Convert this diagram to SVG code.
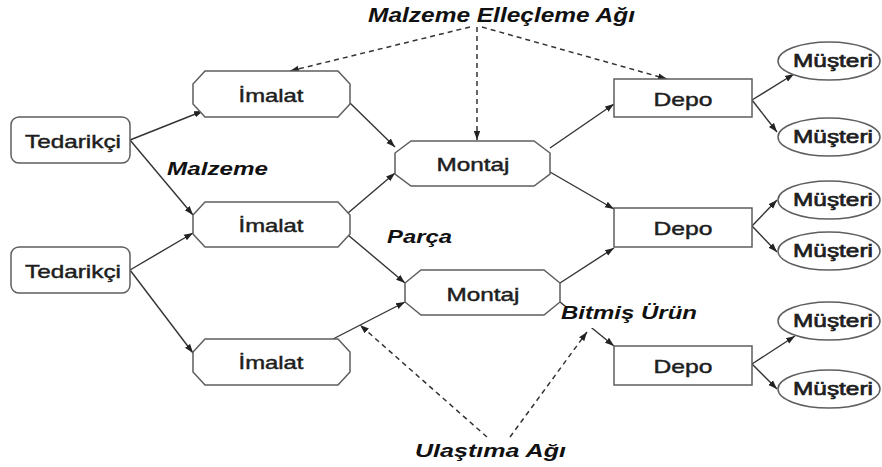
<svg xmlns="http://www.w3.org/2000/svg" width="882" height="467" viewBox="0 0 882 467">
  <defs>
    <marker id="arr" markerUnits="userSpaceOnUse" markerWidth="10" markerHeight="8" refX="9" refY="4" orient="auto">
      <path d="M0,0.8 L9,4 L0,7.2 Z" fill="#222"/>
    </marker>
    <style>
      .node { fill: #fff; stroke: #5e5e5e; stroke-width: 1.5; }
      .lbl { font-family: "Liberation Sans", Arial, sans-serif; font-size: 19px; fill: #1e1e1e; stroke: #1e1e1e; stroke-width: 0.45; text-anchor: middle; }
      .cust { stroke-width: 0.7; }
      .ital { font-family: "Liberation Sans", Arial, sans-serif; font-size: 19px; font-weight: bold; font-style: italic; fill: #111; }
      .edge { stroke: #333; stroke-width: 1.4; fill: none; marker-end: url(#arr); }
      .dash { stroke: #333; stroke-width: 1.5; fill: none; stroke-dasharray: 5 4; marker-end: url(#arr); }
    </style>
  </defs>
  <rect width="882" height="467" fill="#fff"/>

  <g id="connectors">
    <line class="edge" x1="130" y1="140" x2="203" y2="111"/>
    <line class="edge" x1="130" y1="140" x2="193" y2="215"/>
    <line class="edge" x1="130" y1="270" x2="193" y2="233"/>
    <line class="edge" x1="130" y1="270" x2="193" y2="353"/>
    <line class="edge" x1="350" y1="103" x2="395" y2="147"/>
    <line class="edge" x1="348" y1="213" x2="395" y2="173"/>
    <line class="edge" x1="348" y1="235" x2="405" y2="283"/>
    <line class="edge" x1="333" y1="339" x2="405" y2="302"/>
    <line class="edge" x1="550" y1="148" x2="614" y2="104"/>
    <line class="edge" x1="550" y1="172" x2="614" y2="209"/>
    <line class="edge" x1="560" y1="283" x2="614" y2="248"/>
    <line class="edge" x1="560" y1="302" x2="614" y2="346"/>
    <line class="edge" x1="752" y1="100" x2="794" y2="74"/>
    <line class="edge" x1="752" y1="100" x2="777" y2="132"/>
    <line class="edge" x1="752" y1="226" x2="777" y2="200"/>
    <line class="edge" x1="752" y1="226" x2="777" y2="252"/>
    <line class="edge" x1="752" y1="364" x2="795" y2="336"/>
    <line class="edge" x1="752" y1="364" x2="777" y2="389"/>
    <line class="dash" x1="470" y1="27" x2="290" y2="71"/>
    <line class="dash" x1="477" y1="27" x2="477" y2="140"/>
    <line class="dash" x1="482" y1="27" x2="667" y2="79"/>
    <line class="dash" x1="487" y1="437" x2="360" y2="325"/>
    <line class="dash" x1="510" y1="437" x2="587" y2="332"/>
  </g>

  <g id="tedarikci1">
    <rect class="node" x="11" y="117" width="119" height="46" rx="8"/>
    <text class="lbl" x="73" y="148" textLength="96" lengthAdjust="spacingAndGlyphs">Tedarikçi</text>
  </g>
  <g id="tedarikci2">
    <rect class="node" x="11" y="247" width="119" height="46" rx="8"/>
    <text class="lbl" x="73" y="278" textLength="96" lengthAdjust="spacingAndGlyphs">Tedarikçi</text>
  </g>

  <g id="imalat1">
    <polygon class="node" points="205,71 338,71 350,84 350,104 338,117 205,117 193,104 193,84"/>
    <text class="lbl" x="271" y="102" textLength="65" lengthAdjust="spacingAndGlyphs">İmalat</text>
  </g>
  <g id="imalat2">
    <polygon class="node" points="205,202 338,202 350,215 350,234 338,247 205,247 193,234 193,215"/>
    <text class="lbl" x="271" y="232" textLength="65" lengthAdjust="spacingAndGlyphs">İmalat</text>
  </g>
  <g id="imalat3">
    <polygon class="node" points="205,339 338,339 350,352 350,372 338,385 205,385 193,372 193,352"/>
    <text class="lbl" x="271" y="369" textLength="65" lengthAdjust="spacingAndGlyphs">İmalat</text>
  </g>

  <g id="montaj1">
    <polygon class="node" points="411,141 534,141 550,153 550,174 534,186 411,186 395,174 395,153"/>
    <text class="lbl" x="473" y="171" textLength="73" lengthAdjust="spacingAndGlyphs">Montaj</text>
  </g>
  <g id="montaj2">
    <polygon class="node" points="421,270 544,270 560,283 560,302 544,315 421,315 405,302 405,283"/>
    <text class="lbl" x="483" y="301" textLength="73" lengthAdjust="spacingAndGlyphs">Montaj</text>
  </g>

  <g id="depo1">
    <rect class="node" x="614" y="79" width="138" height="38"/>
    <text class="lbl" x="683" y="106" textLength="59" lengthAdjust="spacingAndGlyphs">Depo</text>
  </g>
  <g id="depo2">
    <rect class="node" x="614" y="208" width="138" height="39"/>
    <text class="lbl" x="683" y="235" textLength="59" lengthAdjust="spacingAndGlyphs">Depo</text>
  </g>
  <g id="depo3">
    <rect class="node" x="614" y="346" width="138" height="39"/>
    <text class="lbl" x="683" y="373" textLength="59" lengthAdjust="spacingAndGlyphs">Depo</text>
  </g>

  <g id="musteri1">
    <ellipse class="node" cx="829" cy="61" rx="51" ry="19"/>
    <text class="lbl cust" x="833" y="67" textLength="80" lengthAdjust="spacingAndGlyphs">Müşteri</text>
  </g>
  <g id="musteri2">
    <ellipse class="node" cx="829" cy="137" rx="51" ry="19"/>
    <text class="lbl cust" x="833" y="143" textLength="80" lengthAdjust="spacingAndGlyphs">Müşteri</text>
  </g>
  <g id="musteri3">
    <ellipse class="node" cx="829" cy="200" rx="51" ry="19"/>
    <text class="lbl cust" x="833" y="206" textLength="80" lengthAdjust="spacingAndGlyphs">Müşteri</text>
  </g>
  <g id="musteri4">
    <ellipse class="node" cx="829" cy="251" rx="51" ry="19"/>
    <text class="lbl cust" x="833" y="257" textLength="80" lengthAdjust="spacingAndGlyphs">Müşteri</text>
  </g>
  <g id="musteri5">
    <ellipse class="node" cx="829" cy="321" rx="51" ry="19"/>
    <text class="lbl cust" x="833" y="327" textLength="80" lengthAdjust="spacingAndGlyphs">Müşteri</text>
  </g>
  <g id="musteri6">
    <ellipse class="node" cx="829" cy="389" rx="51" ry="19"/>
    <text class="lbl cust" x="833" y="395" textLength="80" lengthAdjust="spacingAndGlyphs">Müşteri</text>
  </g>

  <g id="labels">
    <text class="ital" x="368" y="22" textLength="267" lengthAdjust="spacingAndGlyphs" style="font-size:20px">Malzeme Elleçleme Ağı</text>
    <text class="ital" x="167" y="175" textLength="101" lengthAdjust="spacingAndGlyphs">Malzeme</text>
    <text class="ital" x="387" y="243" textLength="65" lengthAdjust="spacingAndGlyphs">Parça</text>
    <rect x="561" y="306" width="140" height="22" fill="#fff"/>
    <text class="ital" x="561" y="319" textLength="136" lengthAdjust="spacingAndGlyphs">Bitmiş Ürün</text>
    <text class="ital" x="415" y="457" textLength="151" lengthAdjust="spacingAndGlyphs">Ulaştıma Ağı</text>
  </g>
</svg>
